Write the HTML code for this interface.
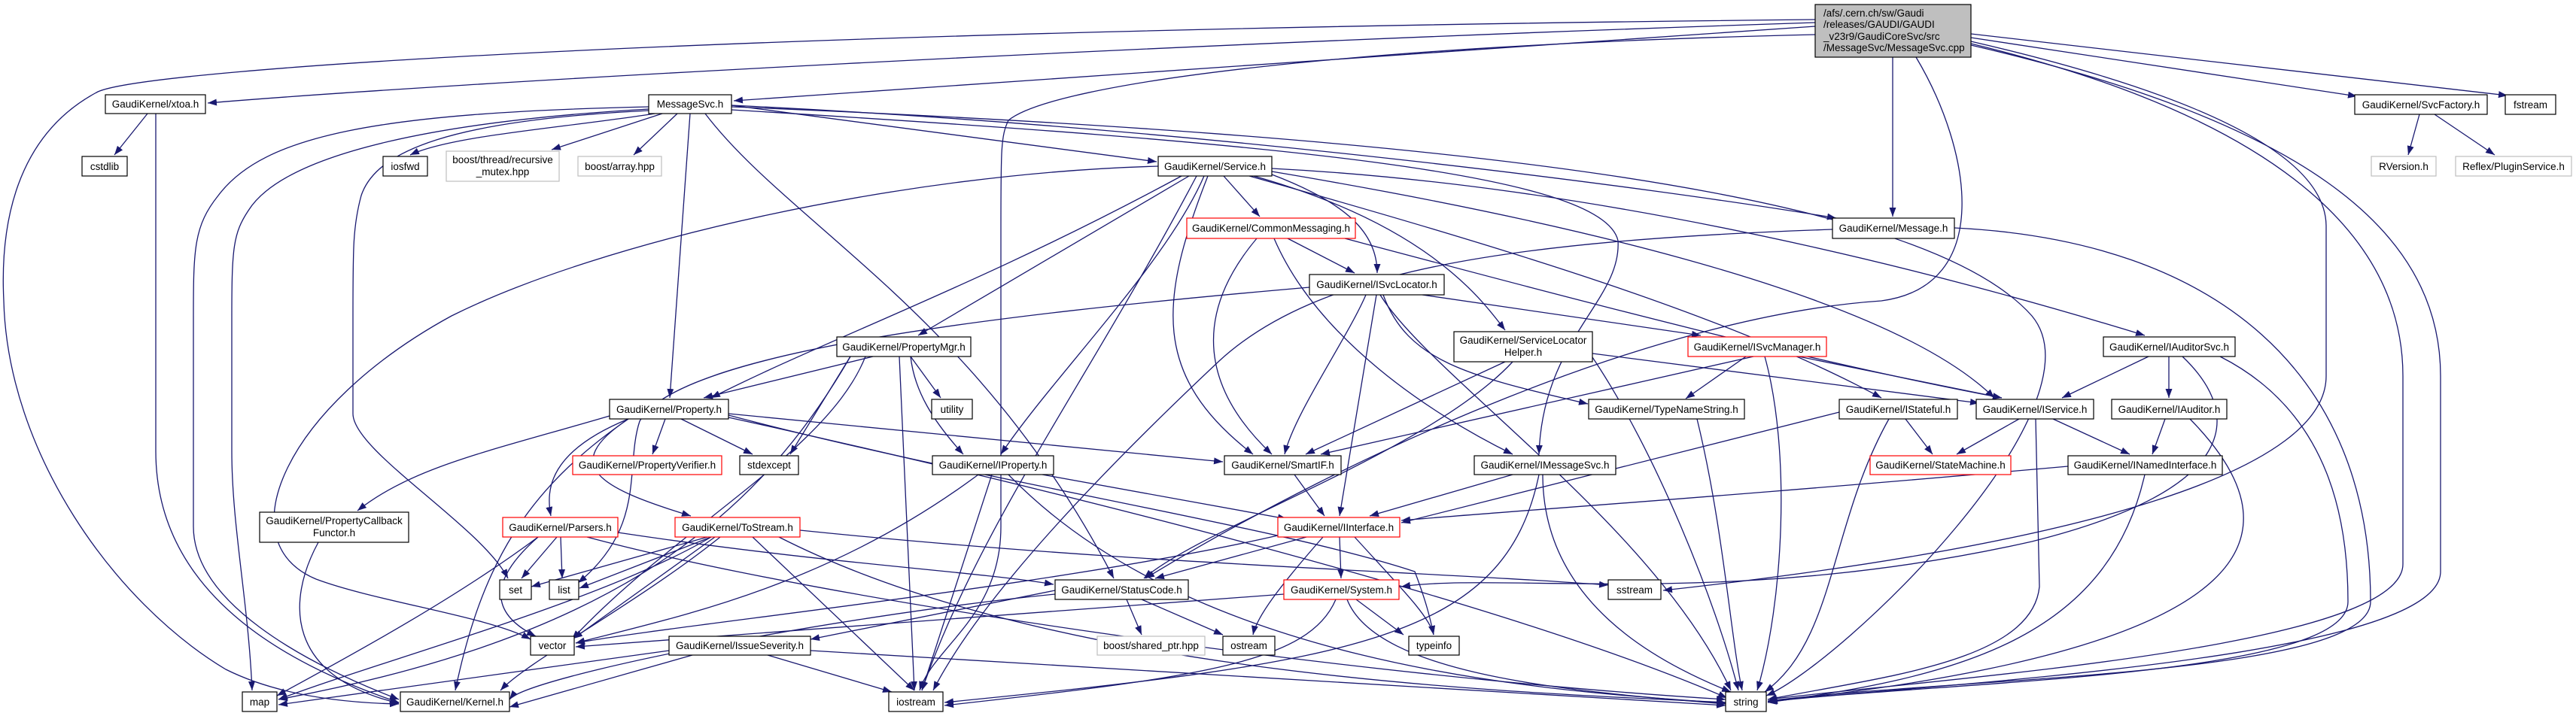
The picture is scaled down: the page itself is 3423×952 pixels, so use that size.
<!DOCTYPE html>
<html><head><meta charset="utf-8"><style>
html,body{margin:0;padding:0;background:#fff;}
svg{display:block;}
text{font-family:"Liberation Sans",Arial,sans-serif;font-size:13.5px;fill:#000;}
.e{fill:none;stroke:#191970;stroke-width:1.3;marker-end:url(#a);}
.n{fill:#fff;stroke:#000;stroke-width:1.2;}
.r{fill:#fff;stroke:#ff0000;stroke-width:1.2;}
.g{fill:#fff;stroke:#bfbfbf;stroke-width:1.2;}
</style></head><body>
<svg width="3423" height="952" viewBox="0 0 3423 952" xmlns="http://www.w3.org/2000/svg">
<defs><marker id="a" markerUnits="userSpaceOnUse" markerWidth="12" markerHeight="9" refX="12" refY="4.5" orient="auto"><path d="M0,0 L12,4.5 L0,9 z" fill="#191970"/></marker></defs>
<g>
<!-- main edges -->
<path class="e" d="M2412,30 C1500,60 600,110 276,137"/>
<path class="e" d="M2412,35 C1800,80 1200,115 975,134"/>
<path class="e" d="M2412,26 C1000,40 200,90 130,122 C20,180 0,300 5,400 C10,600 150,800 300,890 C380,930 480,935 530,936"/>
<path class="e" d="M2412,46 C1800,60 1400,110 1340,160 C1330,180 1330,200 1330,300 L1330,700 C1330,820 1240,860 1222,918"/>
<path class="e" d="M2515,76 L2515,288"/>
<path class="e" d="M2619,50 L3132,128"/>
<path class="e" d="M2619,45 L3332,127"/>
<path class="e" d="M2619,55 C2900,120 3090,200 3091,300 L3091,500 C3091,620 2800,720 2210,785"/>
<path class="e" d="M2619,58 C3000,150 3193,300 3193,500 L3193,750 C3193,860 2600,900 2349,930"/>
<path class="e" d="M2619,60 C3050,160 3243,300 3243,500 L3243,760 C3243,870 2650,905 2349,932"/>
<path class="e" d="M2546,76 C2620,200 2650,380 2500,400 C2200,420 1800,600 1522,769"/>
<path class="e" d="M3215,152 L3200,206"/>
<path class="e" d="M3235,152 L3315,206"/>
<!-- xtoa -->
<path class="e" d="M196,151 L152,206"/>
<path class="e" d="M207,151 L207,600 C207,800 400,890 530,934"/>
<!-- MessageSvc -->
<path class="e" d="M870,151 C750,170 600,180 545,206"/>
<path class="e" d="M880,151 L733,199"/>
<path class="e" d="M900,151 L842,206"/>
<path class="e" d="M972,140 L1537,215"/>
<path class="e" d="M917,151 L890,529"/>
<path class="e" d="M862,142 C500,150 350,180 290,260 C258,300 257,330 257,420 L257,700 C257,800 400,880 530,930"/>
<path class="e" d="M862,145 C600,160 380,200 330,280 C310,310 308,330 308,420 L308,600 C308,700 330,800 335,918"/>
<path class="e" d="M862,147 C600,160 500,200 480,260 C469,300 469,330 469,420 L469,550 C469,600 640,700 675,769"/>
<path class="e" d="M937,151 C1050,300 1300,420 1480,769"/>
<path class="e" d="M972,146 C1700,190 2130,230 2150,320 C2155,400 2050,450 2045,604"/>
<path class="e" d="M972,142 C1900,180 2550,250 2700,420 C2800,540 2450,880 2347,925"/>
<path class="e" d="M972,140 C1600,170 2200,250 2440,290"/>
<!-- Service -->
<path class="e" d="M1626,234 L1674,288"/>
<path class="e" d="M1690,232 C1790,270 1830,310 1830,363"/>
<path class="e" d="M1580,234 L1220,446"/>
<path class="e" d="M1570,234 C1300,380 1100,450 945,529"/>
<path class="e" d="M1600,234 C1550,350 1400,500 1330,604"/>
<path class="e" d="M1605,234 C1540,400 1530,500 1665,604"/>
<path class="e" d="M1690,228 C2000,280 2500,380 2650,529"/>
<path class="e" d="M1660,234 C2000,330 2300,420 2500,529"/>
<path class="e" d="M1690,224 C2200,250 2700,400 2850,446"/>
<path class="e" d="M1666,234 C1900,300 1970,400 2000,439"/>
<path class="e" d="M1539,221 C1200,230 800,320 600,420 C380,540 300,720 420,770 C500,800 650,820 705,850"/>
<path class="e" d="M1590,234 C1450,500 1300,700 1225,918"/>
<!-- CommonMessaging -->
<path class="e" d="M1711,317 L1800,363"/>
<path class="e" d="M1670,317 C1600,400 1580,500 1690,604"/>
<path class="e" d="M1693,317 C1750,450 1900,550 2010,604"/>
<path class="e" d="M1787,317 C2100,400 2400,480 2660,529"/>
<!-- ISvcLocator -->
<path class="e" d="M1815,392 C1790,450 1720,550 1707,604"/>
<path class="e" d="M1829,392 L1780,686"/>
<path class="e" d="M1890,392 L2260,446"/>
<path class="e" d="M1838,392 C1870,480 1950,500 2110,537"/>
<path class="e" d="M1834,392 C1900,500 2200,700 2300,918"/>
<path class="e" d="M1740,382 C1300,420 900,470 850,560 C830,620 860,700 768,775"/>
<!-- ServiceLocatorHelper -->
<path class="e" d="M2000,481 L1735,604"/>
<path class="e" d="M2010,481 C1900,600 1600,700 1520,769"/>
<path class="e" d="M2116,470 L2630,536"/>
<path class="e" d="M2116,475 C2200,600 2280,800 2310,918"/>
<!-- ISvcManager -->
<path class="e" d="M2330,474 L1755,604"/>
<path class="e" d="M2390,474 L2660,529"/>
<path class="e" d="M2320,474 L2240,530"/>
<path class="e" d="M2345,474 C2380,600 2370,800 2335,918"/>
<!-- Message -->
<path class="e" d="M2435,305 C2000,320 1750,360 1620,480 C1450,640 1300,800 1240,918"/>
<path class="e" d="M2597,303 C2950,320 3150,500 3150,800 C3150,900 2600,900 2350,932"/>
<!-- IAuditorSvc -->
<path class="e" d="M2855,474 L2740,529"/>
<path class="e" d="M2882,474 L2882,529"/>
<path class="e" d="M2950,474 C3100,550 3120,700 3120,800 C3120,900 2600,905 2350,933"/>
<path class="e" d="M2900,474 C2980,550 2980,650 2700,720 C2300,810 2000,760 1862,780"/>
<!-- IStateful / IService / IAuditor / INamed -->
<path class="e" d="M2532,557 L2568,604"/>
<path class="e" d="M2510,557 C2430,700 2440,850 2345,920"/>
<path class="e" d="M2444,548 L1862,695"/>
<path class="e" d="M2683,557 L2600,604"/>
<path class="e" d="M2728,557 L2830,604"/>
<path class="e" d="M2705,557 L2710,780 C2700,880 2500,900 2349,930"/>
<path class="e" d="M2877,557 L2860,604"/>
<path class="e" d="M2910,557 C3050,700 3040,860 2349,933"/>
<path class="e" d="M2748,620 C2300,660 2000,680 1862,692"/>
<path class="e" d="M2850,631 C2800,850 2600,900 2349,934"/>
<path class="e" d="M2255,557 C2290,700 2300,850 2315,918"/>
<!-- PropertyMgr -->
<path class="e" d="M1210,474 L1250,529"/>
<path class="e" d="M1210,474 C1215,520 1240,560 1280,604"/>
<path class="e" d="M1160,474 L935,529"/>
<path class="e" d="M1130,474 L1050,604"/>
<path class="e" d="M1150,474 C1100,600 900,700 760,850"/>
<path class="e" d="M1195,474 L1215,918"/>
<path class="e" d="M1130,474 C1000,700 800,850 370,930"/>
<!-- Property -->
<path class="e" d="M884,557 L867,604"/>
<path class="e" d="M905,557 L1000,604"/>
<path class="e" d="M968,550 L1625,614"/>
<path class="e" d="M810,553 C650,600 550,620 475,679"/>
<path class="e" d="M835,557 C730,600 725,650 732,686"/>
<path class="e" d="M835,557 C740,620 800,650 918,686"/>
<path class="e" d="M835,557 C700,650 640,750 605,918"/>
<path class="e" d="M968,552 C1300,640 1700,700 1880,760 C1895,800 1900,820 1905,844"/>
<path class="e" d="M968,555 C1400,650 2000,800 2295,928"/>
<path class="e" d="M423,721 C380,800 380,900 530,935"/>
<!-- Parsers -->
<path class="e" d="M740,714 L693,769"/>
<path class="e" d="M745,714 L747,769"/>
<path class="e" d="M715,714 C640,780 660,820 712,846"/>
<path class="e" d="M715,714 C600,800 450,880 368,925"/>
<path class="e" d="M821,708 C1100,750 1300,760 1400,777"/>
<path class="e" d="M780,714 C1100,800 1800,900 2293,930"/>
<!-- ToStream -->
<path class="e" d="M940,714 L706,780"/>
<path class="e" d="M945,714 L770,782"/>
<path class="e" d="M950,714 L762,849"/>
<path class="e" d="M945,714 C800,800 500,880 370,930"/>
<path class="e" d="M957,714 C850,800 700,880 665,918"/>
<path class="e" d="M1000,714 L1215,918"/>
<path class="e" d="M1035,714 C1400,900 2000,920 2293,934"/>
<path class="e" d="M1063,705 C1500,750 1900,760 2137,778"/>
<!-- IProperty -->
<path class="e" d="M1385,631 L1710,690"/>
<path class="e" d="M1318,631 L1225,918"/>
<path class="e" d="M1340,631 C1600,900 2100,920 2293,935"/>
<path class="e" d="M1300,631 C1100,780 900,820 765,855"/>
<!-- SmartIF / IMessageSvc -->
<path class="e" d="M1720,631 L1760,686"/>
<path class="e" d="M2010,631 L1820,686"/>
<path class="e" d="M2050,631 C2050,800 2200,880 2300,920"/>
<path class="e" d="M2045,631 C2000,850 1800,880 1255,934"/>
<!-- IInterface -->
<path class="e" d="M1736,714 L1535,769"/>
<path class="e" d="M1780,714 L1782,769"/>
<path class="e" d="M1758,714 C1700,780 1670,820 1665,844"/>
<path class="e" d="M1800,714 C1860,780 1900,820 1905,844"/>
<path class="e" d="M1698,712 C1400,780 900,830 765,855"/>
<!-- StatusCode -->
<path class="e" d="M1497,797 L1517,844"/>
<path class="e" d="M1517,797 L1625,844"/>
<path class="e" d="M1402,790 C1100,820 700,900 677,930"/>
<path class="e" d="M1402,785 L1077,850"/>
<!-- System -->
<path class="e" d="M1802,797 L1865,844"/>
<path class="e" d="M1790,797 C1830,900 2100,920 2293,936"/>
<path class="e" d="M1706,790 C1300,820 900,850 765,860"/>
<path class="e" d="M1775,797 C1740,880 1600,900 1255,938"/>
<!-- IssueSeverity -->
<path class="e" d="M889,865 L370,937"/>
<path class="e" d="M920,871 L677,940"/>
<path class="e" d="M1077,865 C1700,900 2000,920 2293,938"/>
<path class="e" d="M1020,871 L1185,920"/>
</g>
<g>
<rect x="2412" y="6" width="207" height="70" fill="#bfbfbf" stroke="#000" stroke-width="1.2"/>
<text x="2423" y="22">/afs/.cern.ch/sw/Gaudi</text>
<text x="2423" y="37">/releases/GAUDI/GAUDI</text>
<text x="2423" y="53">_v23r9/GaudiCoreSvc/src</text>
<text x="2423" y="68">/MessageSvc/MessageSvc.cpp</text>
</g>
<g text-anchor="middle">
<rect class="n" x="140" y="126" width="133" height="25"/><text x="206.5" y="143">GaudiKernel/xtoa.h</text>
<rect class="n" x="862" y="126" width="110" height="25"/><text x="917" y="143">MessageSvc.h</text>
<rect class="n" x="3129" y="126" width="176" height="26"/><text x="3217" y="144">GaudiKernel/SvcFactory.h</text>
<rect class="n" x="3329" y="126" width="67" height="26"/><text x="3362.5" y="144">fstream</text>
<rect class="n" x="109" y="208" width="60" height="26"/><text x="139" y="226">cstdlib</text>
<rect class="n" x="509" y="208" width="59" height="26"/><text x="538.5" y="226">iosfwd</text>
<rect class="g" x="593" y="201" width="150" height="40"/><text x="668" y="217">boost/thread/recursive</text><text x="668" y="233">_mutex.hpp</text>
<rect class="g" x="768" y="208" width="111" height="26"/><text x="823.5" y="226">boost/array.hpp</text>
<rect class="n" x="1539" y="208" width="151" height="26"/><text x="1614.5" y="226">GaudiKernel/Service.h</text>
<rect class="g" x="3151" y="208" width="86" height="26"/><text x="3194" y="226">RVersion.h</text>
<rect class="g" x="3263" y="208" width="154" height="26"/><text x="3340" y="226">Reflex/PluginService.h</text>
<rect class="r" x="1577" y="290" width="224" height="27"/><text x="1689" y="308">GaudiKernel/CommonMessaging.h</text>
<rect class="n" x="2435" y="290" width="162" height="27"/><text x="2516" y="308">GaudiKernel/Message.h</text>
<rect class="n" x="1740" y="365" width="179" height="27"/><text x="1829.5" y="383">GaudiKernel/ISvcLocator.h</text>
<rect class="n" x="1112" y="448" width="178" height="26"/><text x="1201" y="466">GaudiKernel/PropertyMgr.h</text>
<rect class="n" x="1932" y="441" width="184" height="40"/><text x="2024" y="457">GaudiKernel/ServiceLocator</text><text x="2024" y="473">Helper.h</text>
<rect class="r" x="2243" y="448" width="184" height="26"/><text x="2335" y="466">GaudiKernel/ISvcManager.h</text>
<rect class="n" x="2795" y="448" width="175" height="26"/><text x="2882.5" y="466">GaudiKernel/IAuditorSvc.h</text>
<rect class="n" x="810" y="531" width="158" height="26"/><text x="889" y="549">GaudiKernel/Property.h</text>
<rect class="n" x="1238" y="531" width="54" height="26"/><text x="1265" y="549">utility</text>
<rect class="n" x="2111" y="531" width="207" height="26"/><text x="2214.5" y="549">GaudiKernel/TypeNameString.h</text>
<rect class="n" x="2444" y="531" width="157" height="26"/><text x="2522.5" y="549">GaudiKernel/IStateful.h</text>
<rect class="n" x="2626" y="531" width="156" height="26"/><text x="2704" y="549">GaudiKernel/IService.h</text>
<rect class="n" x="2806" y="531" width="153" height="26"/><text x="2882.5" y="549">GaudiKernel/IAuditor.h</text>
<rect class="r" x="761" y="606" width="198" height="25"/><text x="860" y="623">GaudiKernel/PropertyVerifier.h</text>
<rect class="n" x="983" y="606" width="78" height="25"/><text x="1022" y="623">stdexcept</text>
<rect class="n" x="1239" y="606" width="161" height="25"/><text x="1319.5" y="623">GaudiKernel/IProperty.h</text>
<rect class="n" x="1627" y="606" width="155" height="25"/><text x="1704.5" y="623">GaudiKernel/SmartIF.h</text>
<rect class="n" x="1959" y="606" width="188" height="25"/><text x="2053" y="623">GaudiKernel/IMessageSvc.h</text>
<rect class="r" x="2485" y="606" width="187" height="25"/><text x="2578.5" y="623">GaudiKernel/StateMachine.h</text>
<rect class="n" x="2748" y="606" width="205" height="25"/><text x="2850.5" y="623">GaudiKernel/INamedInterface.h</text>
<rect class="n" x="345" y="681" width="198" height="40"/><text x="444" y="697">GaudiKernel/PropertyCallback</text><text x="444" y="713">Functor.h</text>
<rect class="r" x="668" y="688" width="153" height="26"/><text x="744.5" y="706">GaudiKernel/Parsers.h</text>
<rect class="r" x="897" y="688" width="166" height="26"/><text x="980" y="706">GaudiKernel/ToStream.h</text>
<rect class="r" x="1698" y="688" width="162" height="26"/><text x="1779" y="706">GaudiKernel/IInterface.h</text>
<rect class="n" x="664" y="771" width="42" height="26"/><text x="685" y="789">set</text>
<rect class="n" x="730" y="771" width="39" height="26"/><text x="749.5" y="789">list</text>
<rect class="n" x="1402" y="771" width="177" height="26"/><text x="1490.5" y="789">GaudiKernel/StatusCode.h</text>
<rect class="r" x="1706" y="771" width="153" height="26"/><text x="1782.5" y="789">GaudiKernel/System.h</text>
<rect class="n" x="2137" y="771" width="70" height="26"/><text x="2172" y="789">sstream</text>
<rect class="n" x="705" y="846" width="58" height="25"/><text x="734" y="863">vector</text>
<rect class="n" x="889" y="846" width="188" height="25"/><text x="983" y="863">GaudiKernel/IssueSeverity.h</text>
<rect class="g" x="1458" y="846" width="143" height="25"/><text x="1529.5" y="863">boost/shared_ptr.hpp</text>
<rect class="n" x="1625" y="846" width="69" height="25"/><text x="1659.5" y="863">ostream</text>
<rect class="n" x="1872" y="846" width="67" height="25"/><text x="1905.5" y="863">typeinfo</text>
<rect class="n" x="322" y="920" width="46" height="26"/><text x="345" y="938">map</text>
<rect class="n" x="532" y="920" width="145" height="26"/><text x="604.5" y="938">GaudiKernel/Kernel.h</text>
<rect class="n" x="1181" y="920" width="72" height="26"/><text x="1217" y="938">iostream</text>
<rect class="n" x="2293" y="920" width="54" height="26"/><text x="2320" y="938">string</text>
</g>
</svg>
</body></html>
